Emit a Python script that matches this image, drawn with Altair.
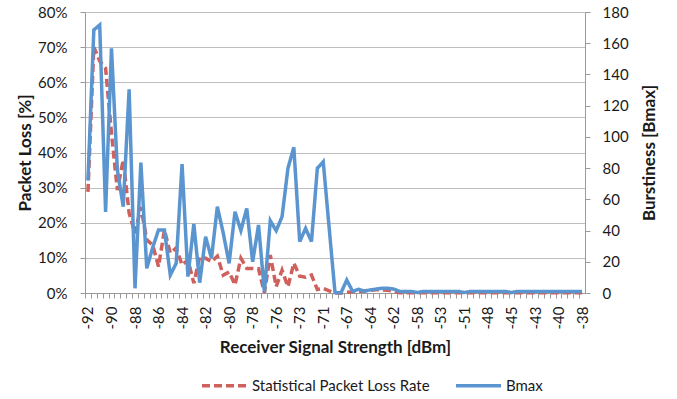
import altair as alt
import pandas as pd

# --- data ---
x_labels = ["-92", "-90", "-88", "-86", "-84", "-82", "-80", "-78", "-76", "-73", "-71",
            "-67", "-64", "-62", "-58", "-53", "-51", "-48", "-45", "-43", "-40", "-38"]
label_every = 4

loss_pct = [28.8, 70, 66, 64, 45.5, 29.3, 37.9, 22.8, 17, 24.5,
            15.1, 13.7, 7.5, 17.9, 11.4, 12.8, 8, 9.4, 2.8, 10.3,
            9.9, 8.9, 10.5, 5.1, 6, 2.3, 9.9, 7, 7, 6.9,
            0.1, 10.8, 1.8, 6.5, 1.8, 8.5, 4.8, 4.5, 5.1, 1,
            1.3, 0.6, 0, 0, 0.2, 0.3, 0.4, 0.6, 0.8, 0.9,
            0.9, 0.8, 0.5, 0.1, 0.1, 0.1, 0.1, 0.1, 0.1, 0.1,
            0.1, 0.1, 0.1, 0.1, 0.1, 0.1, 0.1, 0.1, 0.1, 0.1,
            0.1, 0.1, 0.1, 0.1, 0.1, 0.1, 0.1, 0.1, 0.1, 0.1,
            0.1, 0.1, 0.1, 0.1, 0.1]

bmax = [72, 168.5, 171.7, 52, 156.7, 78.8, 55.3, 130.5, 3, 83.5,
        15.8, 29, 40.4, 40.4, 11.5, 19, 82.6, 10.5, 44.2, 6.6,
        36, 22.2, 55.3, 38.4, 19, 52, 40, 54.2, 20, 43.6,
        0.8, 46.3, 39.9, 48.9, 79.9, 93.3, 32.9, 41.4, 32.9, 79.9,
        84.1, 42, 0.3, 0, 8.3, 1, 2.4, 1.2, 2, 2.5,
        3, 3, 2.5, 1, 1, 1, 0.3, 1, 1, 1,
        1, 1, 1, 1, 0.3, 1, 1, 1, 1, 1,
        1, 1, 0.3, 1, 1, 1, 1, 1, 1, 1,
        1, 1, 1, 1, 1]

series_names = ["Statistical Packet Loss Rate", "Bmax"]
series_colors = ["#D0605B", "#5B95D0"]

N = len(bmax)
df_loss = pd.DataFrame({"i": list(range(N)), "v": [p / 100 for p in loss_pct],
                        "series": series_names[0]})
df_b = pd.DataFrame({"i": list(range(N)), "v": bmax, "series": series_names[1]})

W, H = 500, 281
FONT = "Lato"
TXT = "#1a1a1a"
GRID = "#BEBEBE"
AXC = "#9a9a9a"
TICK_FS = 15
TITLE_FS = 17

lab_js = "[" + ",".join("'%s'" % s for s in x_labels) + "]"
label_expr = "datum.value %% %d == 0 ? %s[datum.value / %d] : ''" % (label_every, lab_js, label_every)
half = W / N / 2

x_enc = alt.X(
    "i:Q",
    scale=alt.Scale(domain=[-0.5, N - 0.5], nice=False, zero=False),
    axis=alt.Axis(
        values=list(range(N)), labelExpr=label_expr, labelAngle=270,
        labelAlign="right", labelBaseline="middle", labelOverlap=False,
        labelFont=FONT, labelFontSize=TICK_FS, labelColor=TXT, labelPadding=8,
        tickSize=5, tickColor=AXC, tickOffset=-half, labelOffset=half,
        domainColor=AXC, grid=False,
        title="Receiver Signal Strength [dBm]", titleFont=FONT, titleFontSize=TITLE_FS,
        titleFontWeight="bold", titleColor=TXT, titleY=54, titleBaseline="middle",
    ),
)

legend_cfg = dict(title=None, orient="none", legendX=115, legendY=349,
                  direction="horizontal", symbolType="stroke",
                  symbolStrokeWidth=3.5, symbolSize=2025, labelLimit=400,
                  labelFont=FONT, labelFontSize=15, labelColor=TXT,
                  columnPadding=19, labelOffset=3)

color_enc = alt.Color("series:N", scale=alt.Scale(domain=series_names, range=series_colors),
                      legend=alt.Legend(**legend_cfg))
dash_enc = alt.StrokeDash("series:N", scale=alt.Scale(domain=series_names, range=[[8, 4], [1, 0]]),
                          legend=alt.Legend(**legend_cfg))

loss_line = alt.Chart(df_loss).mark_line(strokeWidth=3.5).encode(
    x=x_enc,
    y=alt.Y("v:Q", scale=alt.Scale(domain=[0, 0.8], nice=False),
            axis=alt.Axis(format=".0%", values=[k / 10 for k in range(9)], orient="left",
                          tickSize=5, tickColor=AXC, labelPadding=13, domainColor=AXC,
                          grid=True, gridColor=GRID, labelFont=FONT, labelFontSize=TICK_FS,
                          labelColor=TXT, title="Packet Loss [%]", titleFont=FONT,
                          titleFontSize=TITLE_FS, titleFontWeight="bold", titleColor=TXT,
                          titleX=-60, titleY=H / 2, titleAngle=270, titleBaseline="middle",
                          titleAlign="center")),
    color=color_enc,
    strokeDash=dash_enc,
)

bmax_line = alt.Chart(df_b).mark_line(strokeWidth=3.5).encode(
    x=x_enc,
    y=alt.Y("v:Q", scale=alt.Scale(domain=[0, 180], nice=False),
            axis=alt.Axis(values=list(range(0, 181, 20)), orient="right",
                          tickSize=5, tickColor=AXC, labelPadding=12, domainColor=AXC,
                          grid=False, labelFont=FONT, labelFontSize=TICK_FS, labelColor=TXT,
                          title="Burstiness [Bmax]", titleFont=FONT, titleFontSize=TITLE_FS,
                          titleFontWeight="bold", titleColor=TXT, titleX=64, titleY=H / 2,
                          titleAngle=270, titleBaseline="middle", titleAlign="center")),
    color=color_enc,
    strokeDash=dash_enc,
)

chart = alt.layer(loss_line, bmax_line).resolve_scale(y="independent").properties(
    width=W, height=H,
    autosize=alt.AutoSizeParams(type="none"),
    padding={"left": 85, "top": 12, "right": 92, "bottom": 106},
    background="white",
).configure_view(stroke=None)

chart.save("out.html", embed_options={"renderer": "svg", "actions": False})
